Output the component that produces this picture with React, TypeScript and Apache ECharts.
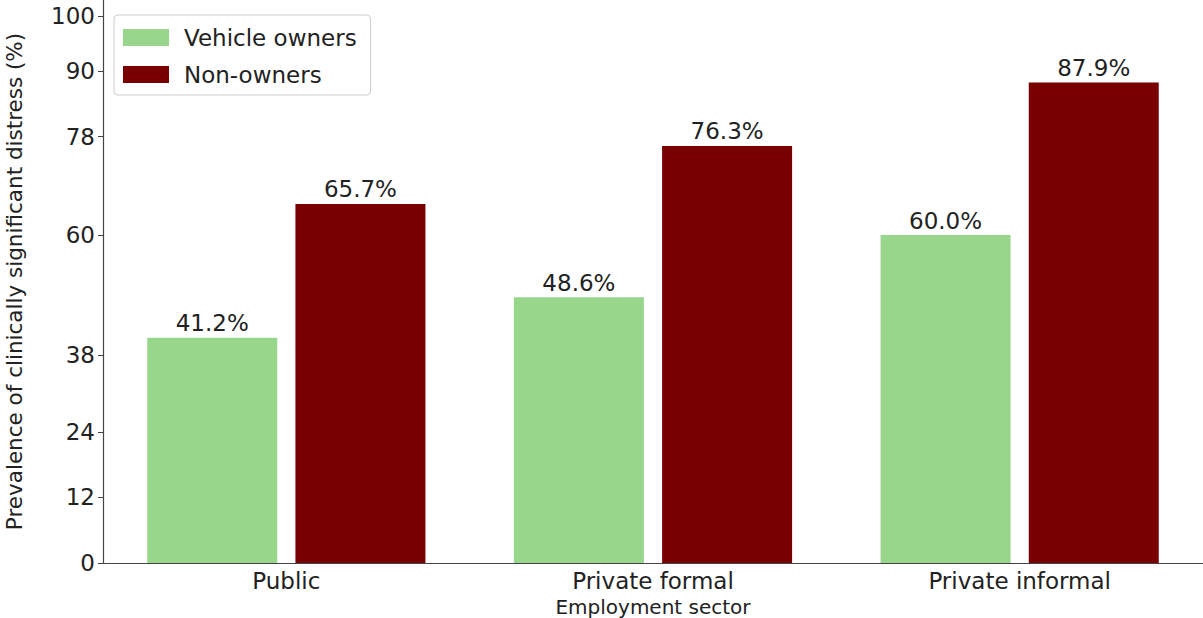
import React, { useEffect, useRef } from "react";
import * as echarts from "echarts";

const categories = ["Public", "Private formal", "Private informal"];
const vehicleOwners = [41.2, 48.6, 60.0];
const nonOwners = [65.7, 76.3, 87.9];
const yTickValues = [0, 12, 24, 38, 60, 78, 90, 100];
const seriesNames = ["Vehicle owners", "Non-owners"];

const FONT = "DejaVu Sans";

export default function App() {
  const ref = useRef<HTMLDivElement>(null);
  useEffect(() => {
    if (!ref.current) return;
    const chart = echarts.init(ref.current, null, { renderer: "svg" });
    const label = {
      show: true,
      position: "top",
      distance: 3,
      color: "#222",
      fontFamily: FONT,
      fontSize: 23,
      formatter: (p: any) => p.value.toFixed(1) + "%",
    };
    chart.setOption({
      animation: false,
      backgroundColor: "#ffffff",
      textStyle: { fontFamily: FONT },
      grid: {
        left: 103,
        right: 0,
        top: 0,
        bottom: 55,
        containLabel: false,
        outerBoundsMode: "none",
      },
      legend: {
        orient: "vertical",
        left: 114,
        top: 15,
        padding: [11, 14, 9, 9],
        icon: "rect",
        itemWidth: 46,
        itemHeight: 17,
        itemGap: 14,
        backgroundColor: "#fff",
        borderColor: "#cccccc",
        borderWidth: 1,
        borderRadius: 4,
        textStyle: { fontFamily: FONT, fontSize: 23, color: "#222", padding: [0, 0, 0, 10] },
        data: seriesNames,
      },
      xAxis: {
        type: "category",
        data: categories,
        name: "Employment sector",
        nameLocation: "middle",
        nameGap: 33,
        nameTextStyle: { fontFamily: FONT, fontSize: 20, color: "#222" },
        axisLine: { lineStyle: { color: "#444", width: 1.2 } },
        axisTick: { alignWithLabel: true, length: 5, lineStyle: { color: "#444" } },
        axisLabel: { fontFamily: FONT, fontSize: 23, color: "#222", margin: 6 },
      },
      yAxis: {
        type: "value",
        min: 0,
        max: 103,
        name: "Prevalence of clinically significant distress (%)",
        nameLocation: "middle",
        nameGap: 78,
        nameTextStyle: { fontFamily: FONT, fontSize: 21.5, color: "#222" },
        axisLine: { show: true, lineStyle: { color: "#444", width: 1.2 } },
        axisTick: { show: true, length: 5, customValues: yTickValues, lineStyle: { color: "#444" } },
        axisLabel: { fontFamily: FONT, fontSize: 23, color: "#222", margin: 8, customValues: yTickValues },
        splitLine: { show: false },
      },
      series: [
        {
          name: seriesNames[0],
          type: "bar",
          data: vehicleOwners,
          barWidth: 130,
          barGap: "14%",
          itemStyle: { color: "#98d68b" },
          label,
        },
        {
          name: seriesNames[1],
          type: "bar",
          data: nonOwners,
          barWidth: 130,
          barGap: "14%",
          itemStyle: { color: "#780000" },
          label,
        },
      ],
    });
    return () => chart.dispose();
  }, []);
  return (
    <div
      ref={ref}
      style={{ position: "fixed", left: 0, top: 0, width: 1203, height: 618, background: "#fff" }}
    />
  );
}
